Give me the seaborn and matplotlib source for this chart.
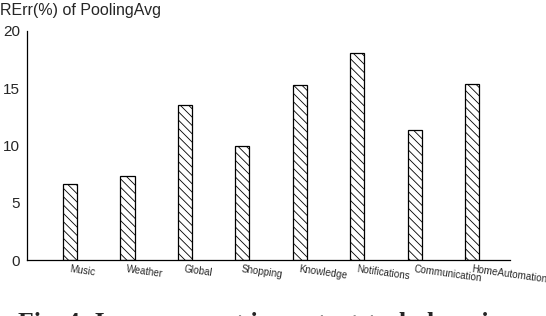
import matplotlib
matplotlib.use("Agg")
import matplotlib.pyplot as plt
import seaborn as sns
import pandas as pd

categories = ["Music", "Weather", "Global", "Shopping", "Knowledge",
              "Notifications", "Communication", "HomeAutomation"]
values = [6.6, 7.3, 13.5, 10.0, 15.3, 18.1, 11.35, 15.4]
yticks = [0, 5, 10, 15, 20]
title = "RErr(%) of PoolingAvg"
caption = "Fig. 4: Improvement in context-task domains"

sns.set_theme(style="white")
plt.rcParams['font.family'] = ['Liberation Sans', 'DejaVu Sans']
plt.rcParams['hatch.linewidth'] = 0.6
plt.rcParams['hatch.color'] = '#333333'

df = pd.DataFrame({"cat": categories, "val": values})

fig = plt.figure(figsize=(5.46, 3.16), dpi=100)
ax = fig.add_axes([27/546, 1-260/316, (510-27)/546, (260-31)/316])
sns.barplot(data=df, x="cat", y="val", ax=ax, color="white",
            edgecolor="black", linewidth=0.9, width=0.245, saturation=1)
for p in ax.patches:
    p.set_hatch('\\\\\\\\')
    p.set_facecolor('white')

ax.set_xlim(-0.75, 7.66)
ax.set_ylim(0, 20)
ax.set_yticks(yticks)
ax.set_yticklabels([str(v) for v in yticks], fontsize=11)
ax.set_xlabel("")
ax.set_ylabel("")
ax.set_xticks(range(len(categories)))
ax.set_xticklabels(categories, fontsize=7.1, rotation=-8, ha='left',
                   rotation_mode='anchor')
ax.tick_params(axis='x', length=0, pad=3)
ax.tick_params(axis='y', length=0, pad=5)
for s in ["top", "right"]:
    ax.spines[s].set_visible(False)
for s in ["left", "bottom"]:
    ax.spines[s].set_color("black")
    ax.spines[s].set_linewidth(0.9)

fig.text(0.0, 1-10/316, title, fontsize=11.5, va='center', ha='left')
fig.text(18/546, 1-330/316, caption, fontsize=18.5, fontweight='bold',
         family='Liberation Serif', va='baseline', ha='left')

fig.savefig("out.png", dpi=100)
